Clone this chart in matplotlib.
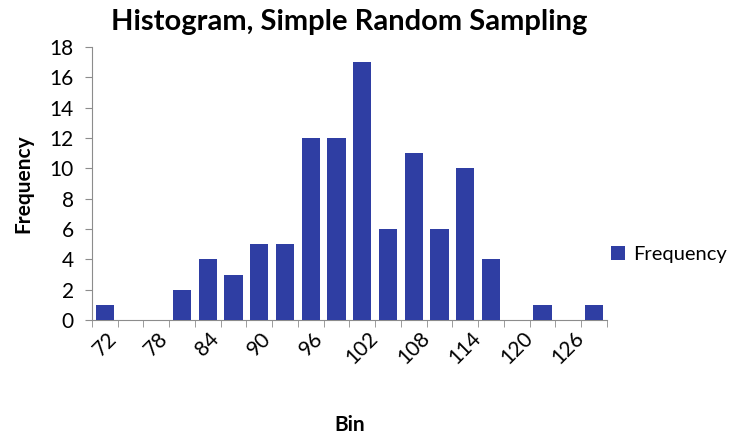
import matplotlib
matplotlib.use("Agg")
import matplotlib.pyplot as plt
import numpy as np

# histogram bins (lower edges) and counts
bins = [72, 75, 78, 81, 84, 87, 90, 93, 96, 99, 102, 105, 108, 111, 114, 117, 120, 123, 126, 129]
counts = [1, 0, 0, 2, 4, 3, 5, 5, 12, 12, 17, 6, 11, 6, 10, 4, 0, 1, 0, 1]
yticks = [0, 2, 4, 6, 8, 10, 12, 14, 16, 18]

plt.rcParams['font.family'] = ['Lato', 'DejaVu Sans']
bar_color = '#2F3EA3'
axis_color = '#8C8C8C'

fig = plt.figure(figsize=(7.41, 4.36), dpi=100)
ax = fig.add_axes([0.124, 0.266, 0.695, 0.626])

x = np.arange(len(bins))
ax.bar(x, counts, width=0.7, color=bar_color, label='Frequency', zorder=3)

ax.set_xlim(-0.5, len(bins) - 0.5)
ax.set_ylim(0, 18)
ax.set_yticks(yticks)
ax.set_yticklabels([str(v) for v in yticks], fontsize=15)

# every other bin gets a label, ticks sit between categories
ax.set_xticks(x[::2])
ax.set_xticklabels([str(b) for b in bins[::2]], rotation=45, fontsize=15,
                   ha='center', va='top')
ax.set_xticks(np.arange(-0.5, len(bins)), minor=True)
ax.tick_params(axis='x', which='major', length=0, pad=6)
ax.tick_params(axis='x', which='minor', length=5, color=axis_color)
ax.tick_params(axis='y', length=5, color=axis_color, pad=8)

for side in ['top', 'right']:
    ax.spines[side].set_visible(False)
for side in ['left', 'bottom']:
    ax.spines[side].set_color(axis_color)

ax.set_title('Histogram, Simple Random Sampling', fontsize=21, fontweight='bold', pad=12)
ax.set_ylabel('Frequency', fontsize=15, fontweight='bold', labelpad=12)
ax.set_xlabel('Bin', fontsize=15, fontweight='bold', labelpad=34)

ax.legend(loc='center left', bbox_to_anchor=(1.0, 0.24), frameon=False,
          fontsize=14.5, handlelength=0.7, handleheight=0.7, handletextpad=0.4,
          borderaxespad=0.0, borderpad=0.2)

fig.savefig('out.png', dpi=100, facecolor='white')
